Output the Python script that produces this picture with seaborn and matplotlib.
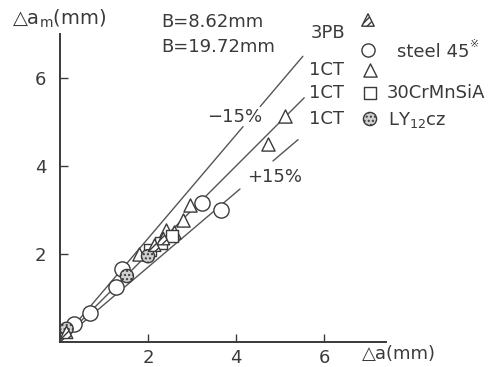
import numpy as np
import pandas as pd
import matplotlib
matplotlib.use("Agg")
import matplotlib.pyplot as plt
import seaborn as sns

sns.set_theme(style="white")
plt.rcParams["font.family"] = ["DejaVu Sans"]
plt.rcParams["mathtext.fontset"] = "dejavusans"

# measured crack growth (delta a) vs. predicted (delta a_m), mm
circle_da = [0.32, 0.68, 1.27, 1.42, 3.22, 3.67]
circle_dam = [0.42, 0.67, 1.24, 1.66, 3.16, 3.00]

tri_da = [1.80, 2.40, 2.60, 2.80, 2.95, 4.73, 5.11]
tri_dam = [2.00, 2.55, 2.50, 2.78, 3.12, 4.50, 5.14]

square_da = [2.05, 2.30, 2.55]
square_dam = [2.10, 2.25, 2.40]

dotted_da = [0.15, 1.52, 2.00]
dotted_dam = [0.30, 1.50, 1.95]

hatch_da = [0.15, 2.15, 2.35]
hatch_dam = [0.22, 2.20, 2.35]

# reference lines: slope and drawn x-ranges (gaps where the labels sit)
line_slopes = [1 / 0.85, 1.0, 0.85]
line_ranges = [[(0.0, 4.16), (4.55, 5.52)],
               [(0.0, 5.55)],
               [(0.0, 4.09), (4.84, 5.41)]]

ink = "#3a3a3a"
W, H = 500, 367

fig = plt.figure(figsize=(W / 100, H / 100), dpi=100)
ax = fig.add_axes([60 / W, 25 / H, 7.4 * 44 / W, 7.0 * 44 / H])

for slope, ranges in zip(line_slopes, line_ranges):
    for x0, x1 in ranges:
        xs = np.array([x0, x1])
        ax.plot(xs, slope * xs, color="#555555", lw=1.0, zorder=1)

groups = [
    (circle_da, circle_dam, "o", "white", None, 120),
    (tri_da, tri_dam, "^", "white", None, 90),
    (square_da, square_dam, "s", "white", None, 70),
    (dotted_da, dotted_dam, "o", "#d0d0d0", "....", 90),
    (hatch_da, hatch_dam, "^", "white", "/////", 80),
]
for xs, ys, m, fc, hatch, size in groups:
    df = pd.DataFrame({"da": xs, "dam": ys})
    sns.scatterplot(data=df, x="da", y="dam", marker=m, s=size, color=fc,
                    edgecolor=ink, linewidth=1.0, hatch=hatch, ax=ax, zorder=3)

ax.set_xlim(0, 7.4)
ax.set_ylim(0, 7.0)
ax.set_xticks([2, 4, 6])
ax.set_yticks([2, 4, 6])
ax.set_xticklabels(["2", "4", "6"])
ax.set_yticklabels(["2", "4", "6"])
ax.tick_params(direction="in", length=6, width=1.0, colors=ink,
               labelsize=13, bottom=True, left=True)
ax.tick_params(axis="x", pad=5)
ax.tick_params(axis="y", pad=10)
ax.set_xlabel("")
ax.set_ylabel("")
for side in ["top", "right"]:
    ax.spines[side].set_visible(False)
for side in ["left", "bottom"]:
    ax.spines[side].set_color(ink)
    ax.spines[side].set_linewidth(1.4)


def ftext(x, y, s, **kw):
    kw.setdefault("fontsize", 13)
    kw.setdefault("color", ink)
    kw.setdefault("va", "center")
    fig.text(x / W, 1 - y / H, s, **kw)


def fmark(x, y, m, fc="white", hatch=None, size=90):
    ax.scatter([x / W], [1 - y / H], transform=fig.transFigure, marker=m,
               s=size, facecolor=fc, edgecolor=ink, linewidth=1.0,
               hatch=hatch, clip_on=False, zorder=5)


ftext(12, 19, "△a$_{\\rm m}$(mm)", fontsize=14)
ftext(161, 22, "B=8.62mm")
ftext(161, 47, "B=19.72mm")

ftext(345, 33, "3PB", ha="right")
ftext(344, 70, "1CT", ha="right")
ftext(344, 93, "1CT", ha="right")
ftext(344, 119, "1CT", ha="right")

fmark(368, 20, "^", hatch="/////", size=80)
fmark(368, 50, "o", size=90)
fmark(370, 70, "^", size=90)
fmark(370, 93, "s", size=80)
fmark(370, 119, "o", fc="#d0d0d0", hatch="....", size=90)

ftext(397, 52, "steel 45")
ftext(470, 44, "※", fontsize=8)
ftext(387, 93, "30CrMnSiA")
ftext(388, 120, "LY$_{12}$cz")

ftext(262, 117, "−15%", ha="right")
ftext(247, 177, "+15%")
ftext(362, 354, "△a(mm)")

fig.savefig("out.png", dpi=100)
